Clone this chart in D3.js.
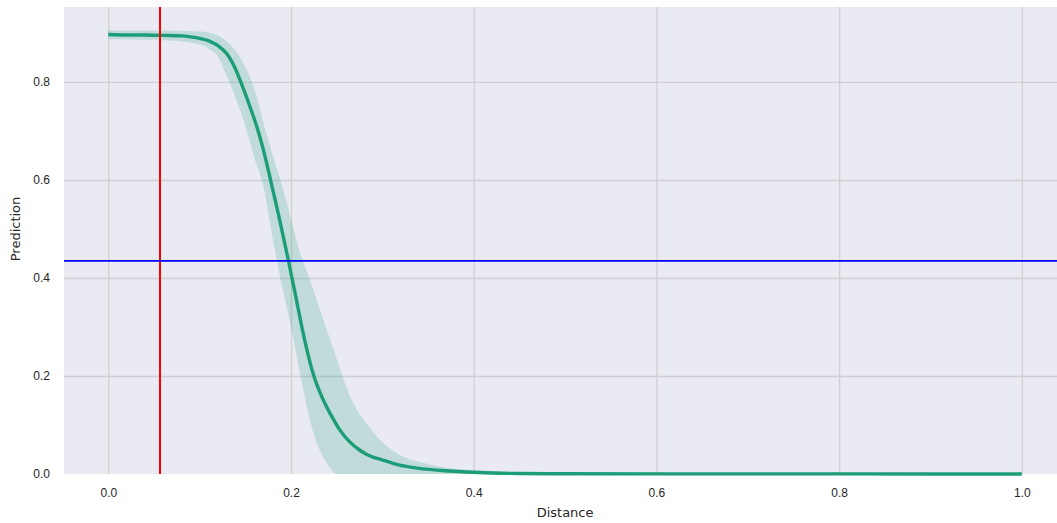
<!DOCTYPE html>
<html lang="en">
<head>
<meta charset="utf-8">
<script src="https://d3js.org/d3.v7.min.js"></script>
<style>
    body { margin: 0; background: #fff; }
    svg { display: block; font-family: "DejaVu Sans", sans-serif; }
    .tick text { fill: #262626; font-size: 12px; }
</style>
</head>
<body>
<svg id="chart"></svg>
<script>
    // mean prediction curve
    const distance = [0, 0.02, 0.04, 0.06, 0.08, 0.09, 0.10, 0.11, 0.12, 0.13, 0.137, 0.144, 0.155, 0.162, 0.169, 0.177,
        0.184, 0.188, 0.197, 0.206, 0.213, 0.217, 0.224, 0.232, 0.239, 0.246, 0.253, 0.264, 0.275, 0.283, 0.301, 0.319,
        0.338, 0.374, 0.392, 0.42, 0.45, 0.5, 0.6, 0.7, 0.8, 0.9, 1.0];
    const prediction = [0.897, 0.896, 0.896, 0.895, 0.894, 0.892, 0.889, 0.884, 0.874, 0.857, 0.835, 0.805, 0.750, 0.712, 0.667, 0.605,
        0.548, 0.515, 0.437, 0.355, 0.290, 0.257, 0.206, 0.165, 0.137, 0.113, 0.091, 0.066, 0.049, 0.040, 0.028, 0.018,
        0.012, 0.006, 0.004, 0.002, 0.001, 0.0005, 0.0003, 0.0002, 0.0002, 0.0001, 0.0001];

    // confidence band
    const ciDistance = [0, 0.05, 0.10, 0.11, 0.12, 0.13, 0.14, 0.15, 0.16, 0.17, 0.18, 0.19, 0.20, 0.21, 0.22, 0.23, 0.24,
        0.25, 0.26, 0.27, 0.28, 0.29, 0.30, 0.32, 0.34, 0.37, 0.40, 0.45, 0.5, 0.6, 0.8, 1.0];
    const ciLower = [0.887, 0.886, 0.877, 0.868, 0.852, 0.81, 0.765, 0.71, 0.645, 0.585, 0.48, 0.385, 0.30, 0.205, 0.115, 0.055, 0.02,
        0, 0, 0, 0, 0, 0, 0, 0, 0, 0, 0, 0, 0, 0, 0];
    const ciUpper = [0.905, 0.905, 0.903, 0.901, 0.895, 0.882, 0.862, 0.83, 0.785, 0.715, 0.65, 0.59, 0.52, 0.45, 0.40, 0.345, 0.29,
        0.235, 0.18, 0.138, 0.11, 0.085, 0.065, 0.038, 0.025, 0.013, 0.008, 0.004, 0.003, 0.002, 0.002, 0.002];

    const thresholdX = 0.0566;
    const thresholdY = 0.435;

    const xTicks = [0.0, 0.2, 0.4, 0.6, 0.8, 1.0];
    const yTicks = [0.0, 0.2, 0.4, 0.6, 0.8];

    const width = 1057, height = 523;
    const plotLeft = 64, plotRight = 1057, plotTop = 7, plotBottom = 474;

    const svg = d3.select('#chart').attr('width', width).attr('height', height);

    const x = d3.scaleLinear().domain([-0.0485, 1.0385]).range([plotLeft, plotRight]);
    const y = d3.scaleLinear().domain([0, 0.953]).range([plotBottom, plotTop]);

    svg.append('rect')
        .attr('x', plotLeft).attr('y', plotTop)
        .attr('width', plotRight - plotLeft).attr('height', plotBottom - plotTop)
        .attr('fill', '#eaeaf2');

    // grid + tick labels
    const gx = svg.append('g')
        .attr('transform', 'translate(0,' + plotBottom + ')')
        .call(d3.axisBottom(x).tickValues(xTicks).tickFormat(d3.format('.1f'))
            .tickSize(-(plotBottom - plotTop)).tickPadding(14));
    const gy = svg.append('g')
        .attr('transform', 'translate(' + plotLeft + ',0)')
        .call(d3.axisLeft(y).tickValues(yTicks).tickFormat(d3.format('.1f'))
            .tickSize(-(plotRight - plotLeft)).tickPadding(14));
    [gx, gy].forEach(g => {
        g.select('.domain').remove();
        g.selectAll('.tick line').attr('stroke', '#d0d0d4').attr('stroke-width', 1.3);
    });
    gy.selectAll('.tick').filter(d => d === 0).select('line').remove();

    const band = ciDistance.map((d, i) => ({ x: d, lo: ciLower[i], hi: ciUpper[i] }));
    svg.append('path')
        .datum(band)
        .attr('fill', '#1b9e77')
        .attr('fill-opacity', 0.2)
        .attr('d', d3.area().curve(d3.curveMonotoneX)
            .x(d => x(d.x)).y0(d => y(d.lo)).y1(d => y(d.hi)));

    const pts = distance.map((d, i) => [d, prediction[i]]);
    svg.append('path')
        .datum(pts)
        .attr('fill', 'none')
        .attr('stroke', '#1b9e77')
        .attr('stroke-width', 3.4)
        .attr('stroke-linejoin', 'round')
        .attr('d', d3.line().curve(d3.curveMonotoneX).x(d => x(d[0])).y(d => y(d[1])));

    svg.append('line')
        .attr('x1', x(thresholdX)).attr('x2', x(thresholdX))
        .attr('y1', plotTop).attr('y2', plotBottom)
        .attr('stroke', 'red').attr('stroke-width', 2);

    svg.append('line')
        .attr('x1', plotLeft).attr('x2', plotRight)
        .attr('y1', y(thresholdY)).attr('y2', y(thresholdY))
        .attr('stroke', 'blue').attr('stroke-width', 1.6);

    svg.append('text')
        .attr('x', x(0.5)).attr('y', 517)
        .attr('text-anchor', 'middle')
        .attr('fill', '#262626').attr('font-size', 13)
        .text('Distance');

    svg.append('text')
        .attr('transform', 'translate(20,' + y(0.5) + ') rotate(-90)')
        .attr('text-anchor', 'middle')
        .attr('fill', '#262626').attr('font-size', 13)
        .text('Prediction');
</script>
</body>
</html>
